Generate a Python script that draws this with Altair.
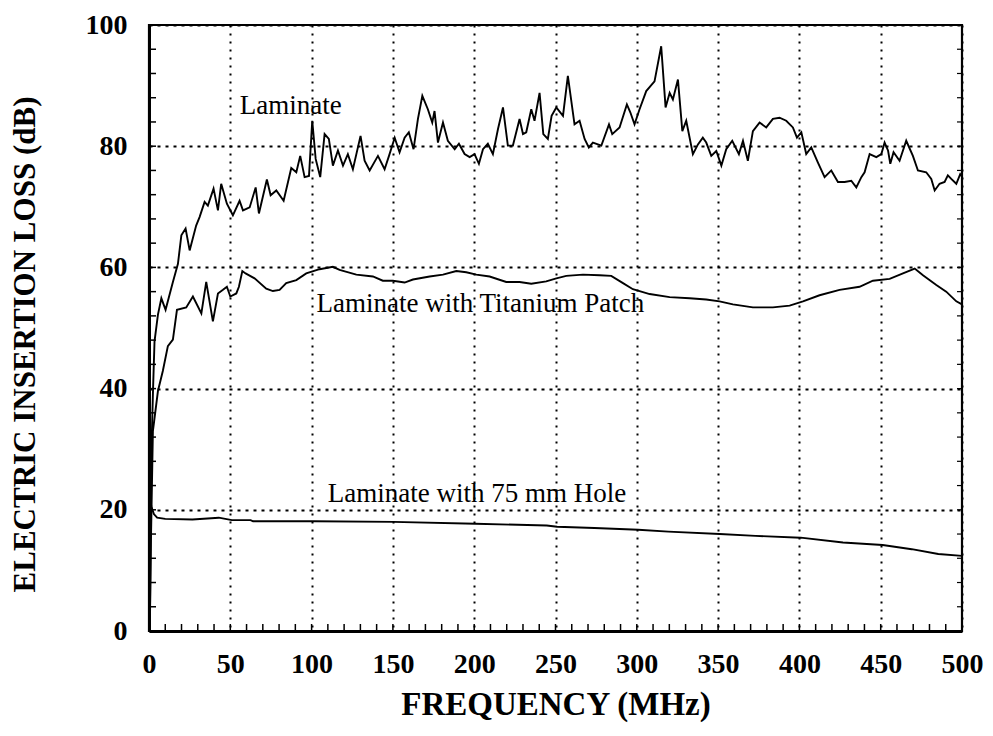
import altair as alt
import pandas as pd

# ---- data ----
lam_f = [0.5, 1, 1.5, 2.5, 3.4, 5.5, 7.6, 10.2, 14.7, 17.8, 19.9, 22.5, 25, 29, 31.1, 34.2, 36.2, 39.7,
         42.4, 44.4, 47.9, 51.6, 55.7, 57.8, 61.9, 65.6, 67.6, 72.5, 74.8, 78.3, 82.8, 87.5, 90.6, 93,
         95.7, 98.4, 100.4, 102.5, 105.3, 108, 110.6, 113.1, 116.2, 119.3, 122.3, 125.4, 130.1, 132.6,
         135.7, 140.8, 144.9, 147.6, 151.1, 154.1, 157.2, 159.8, 162.7, 165.4, 168.1, 171.5, 174.2,
         175.6, 177.7, 180.8, 183.8, 188, 190.6, 194.1, 197.2, 200.2, 202.9, 205.4, 208.4, 211.5,
         214.6, 217.7, 220.7, 223.8, 227.9, 230, 232, 235.1, 237.1, 240.2, 242.5, 245.3, 247.6, 250.5,
         254.6, 257.6, 261.7, 264.8, 267.9, 270.5, 273, 278.2, 282.9, 284.9, 289.4, 293.9, 296, 298.6,
         301.7, 305.8, 310.9, 315, 317.7, 320.2, 322.2, 325.3, 328, 330.4, 334.5, 337.6, 340.6, 342.7,
         345.8, 348.9, 352, 355, 358.7, 362.8, 365.3, 368.3, 371.4, 375.5, 379.6, 383.7, 387.8, 391.9,
         396, 398.5, 401.2, 404.2, 407.3, 411.4, 415.5, 419.6, 423.7, 427.8, 431.9, 435, 438.1, 440.1,
         443.2, 447.3, 450.4, 452.4, 454.5, 455.9, 457.9, 461.6, 465.7, 469.8, 472.9, 478, 481.1,
         483.2, 486.2, 489.3, 491.3, 493.4, 496.5, 498.9, 500]
lam_v = [0, 15, 30, 40, 47.8, 52.2, 54.9, 53, 57.6, 60.6, 65.3, 66.4, 62.8, 66.9, 68.3, 70.8, 70.2, 73,
         69.4, 73.8, 70.5, 68.6, 71, 69.4, 69.9, 73.2, 68.9, 74.5, 71.9, 72.7, 71, 76.4, 75.7, 78.4,
         74.9, 75.1, 84.2, 77.9, 74.9, 82, 81.2, 76.8, 79.3, 76.8, 78.7, 76.2, 81.7, 77.6,
         76, 78.4, 76.2, 78.4, 81.4, 79, 81.4, 82.3, 79.5, 84.5, 88.3, 86.1, 83.9,
         85.8, 80.6, 83.9, 80.9, 79.5, 80.4, 78.7, 78.2, 78.7, 77.1, 79.5, 80.4, 78.7,
         82.8, 86.4, 80.1, 80.1, 84.5, 82, 82.3, 86.1, 84.2, 88.8, 82, 81.2, 85, 86.4,
         85, 91.6, 83.6, 84.2, 81.2, 79.8, 80.6, 80.1, 83.6, 82, 83.1, 86.9, 85.6, 83.6,
         86.1, 89.1, 90.7, 96.5, 86.4, 88.8, 87.7, 91, 82.5, 84.2, 78.7, 80.3, 81.4, 80.6,
         78.4, 79.2, 76.8, 79.5, 80.9, 78.7, 80.9, 77.6, 82.5, 83.9, 83.1, 84.5, 84.7, 84.2,
         83.1, 81.4, 82.3, 78.7, 79.8, 77.3, 74.9, 76, 74.1, 74.1, 74.3, 73.2, 74.9, 75.7,
         78.7, 78.2, 78.7, 80.6, 79.3, 77.1, 79, 77.6, 80.9, 78.4, 76, 75.7, 74.6,
         72.7, 73.8, 74.1, 75.2, 74.6, 73.8, 75.4, 75]

ti_f = [0.5, 1.2, 2.4, 5.5, 8.5, 11.6, 14.7, 17.2, 22.9, 27, 32.2, 35.2, 39.3, 42.4, 45.5, 47.9, 50,
        53.7, 55.3, 57.4, 59.4, 64.9, 72.1, 76.2, 80.3, 84.4, 90.6, 96.7, 104.9, 113.1, 117.2, 127.5,
        137.7, 143.8, 150, 157.2, 162.3, 172.6, 180.8, 189, 195.1, 201.3, 209.5, 219.7, 227.9, 235.1,
        244.3, 250.5, 256.6, 266.9, 277.1, 284.3, 291.5, 297.6, 307.9, 320.2, 332.5, 342.7, 350.9,
        359.1, 371.4, 383.7, 394, 402.2, 412.4, 424.7, 437, 445.2, 455.5, 463.7, 470.9, 476, 484.2,
        490.3, 496.5, 500]
ti_v = [0, 15, 33, 39.6, 42.9, 47, 48.1, 53, 53.4, 55.2, 52.4, 57.6, 51.1, 55.7, 56.3, 56.8, 55.2,
        55.7, 56.8, 59.4, 59, 58.2, 56.5, 56.1, 56.3, 57.4, 57.9, 59, 59.7, 60.1, 59.6, 58.8,
        58.5, 57.8, 57.8, 57.5, 58, 58.5, 58.8, 59.4, 59.2, 58.8, 58.5, 57.6, 57.6, 57.3,
        57.7, 58.2, 58.6, 58.8, 58.7, 58.6, 57.4, 56.4, 55.6, 55.1, 54.9, 54.7, 54.4,
        53.9, 53.4, 53.4, 53.7, 54.4, 55.4, 56.3, 56.8, 57.8, 58.1, 59, 59.8, 58.7, 57.1,
        56, 54.4, 53.9]

hole_f = [0.3, 0.8, 1.5, 3, 5, 10, 26.7, 42.9, 51, 62.5, 64, 101.5, 150.3, 200.7, 244.6, 251, 273.9,
          300.9, 319.4, 351, 373, 400.8, 426.8, 451.2, 469.1, 485.4, 500]
hole_v = [0, 21.5, 20.5, 19.3, 18.7, 18.5, 18.4, 18.7, 18.3, 18.3, 18.1, 18.1, 18, 17.7, 17.4, 17.2, 17,
          16.7, 16.4, 16, 15.7, 15.4, 14.6, 14.2, 13.5, 12.7, 12.4]

label_text = ["Laminate", "Laminate with Titanium Patch", "Laminate with 75 mm Hole"]
label_f = [55.8, 103, 110]
label_v = [86.6, 54.0, 22.6]

x_ticks = list(range(0, 501, 50))
y_ticks = list(range(0, 101, 20))
x_minor = list(range(0, 501, 10))
y_minor = list(range(0, 101, 4))

# ---- tables ----
rows = []
for name, fs, vs in [("Laminate", lam_f, lam_v), ("Titanium", ti_f, ti_v), ("Hole", hole_f, hole_v)]:
    for f, v in zip(fs, vs):
        rows.append({"series": name, "f": f, "v": v})
df = pd.DataFrame(rows)
labels = pd.DataFrame({"text": label_text, "f": label_f, "v": label_v})
xm = pd.DataFrame({"t": x_minor})
ym = pd.DataFrame({"t": y_minor})

W, H = 813, 606
FONT = "Liberation Serif"

xscale = alt.Scale(domain=[0, 500], nice=False, zero=False)
yscale = alt.Scale(domain=[0, 100], nice=False, zero=False)

xaxis = alt.Axis(values=x_ticks, title="FREQUENCY (MHz)", ticks=False, grid=True,
                 gridDash=[2, 6], gridColor="black", gridWidth=2, gridOpacity=1,
                 domainColor="black", domainWidth=3,
                 labelFont=FONT, labelFontWeight="bold", labelFontSize=28, labelColor="black",
                 labelBaseline="middle", labelPadding=33, labelFlush=False,
                 titleFont=FONT, titleFontWeight="bold", titleFontSize=33, titleColor="black",
                 titleY=73, titleBaseline="middle")
yaxis = alt.Axis(values=y_ticks, title="ELECTRIC INSERTION LOSS (dB)", ticks=False, grid=True,
                 gridDash=[3, 5], gridColor="black", gridWidth=2, gridOpacity=1,
                 domainColor="black", domainWidth=3,
                 labelFont=FONT, labelFontWeight="bold", labelFontSize=28, labelColor="black",
                 labelPadding=22, labelFlush=False,
                 titleFont=FONT, titleFontWeight="bold", titleFontSize=31, titleColor="black",
                 titleAngle=270, titleX=-124, titleY=319, titleBaseline="middle", titleAlign="center")

lines = alt.Chart(df).mark_line(color="black", strokeWidth=1.9).encode(
    x=alt.X("f:Q", scale=xscale, axis=xaxis),
    y=alt.Y("v:Q", scale=yscale, axis=yaxis),
    detail="series:N",
)

text = alt.Chart(labels).mark_text(align="left", baseline="middle", font=FONT, fontSize=27,
                                   color="black").encode(
    x=alt.X("f:Q", scale=xscale), y=alt.Y("v:Q", scale=yscale), text="text:N")

bottom_ticks = alt.Chart(xm).mark_rule(color="black", strokeWidth=1.5).encode(
    x=alt.X("t:Q", scale=xscale), y=alt.value(H), y2=alt.value(H - 7))
left_ticks = alt.Chart(ym).mark_rule(color="black", strokeWidth=1.5).encode(
    y=alt.Y("t:Q", scale=yscale), x=alt.value(0), x2=alt.value(7))
right_ticks = alt.Chart(ym).mark_rule(color="black", strokeWidth=1.2).encode(
    y=alt.Y("t:Q", scale=yscale), x=alt.value(W), x2=alt.value(W - 5))

chart = alt.layer(lines, text, bottom_ticks, left_ticks, right_ticks).properties(
    width=W, height=H,
    autosize=alt.AutoSizeParams(type="none"),
    padding={"left": 141, "top": 17, "right": 23, "bottom": 95},
    background="white",
).configure_view(stroke="black", strokeWidth=2.2)

chart.save("out.html", embed_options={"renderer": "svg", "actions": False})
